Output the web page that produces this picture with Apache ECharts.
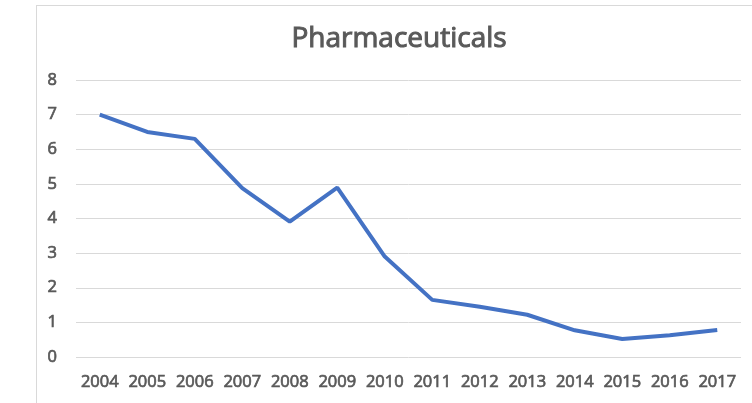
<!DOCTYPE html>
<html><head><meta charset="utf-8">
<script src="https://cdn.jsdelivr.net/npm/echarts@6/dist/echarts.min.js"></script>
<style>html,body{margin:0;padding:0;background:#fff;}#c{width:752px;height:403px;position:relative;}
#b{position:absolute;left:36px;top:5px;width:800px;height:500px;border:1px solid #d9d9d9;box-sizing:border-box;}</style>
</head><body><div id="b"></div><div id="c"></div>
<script>
const categories = ['2004','2005','2006','2007','2008','2009','2010','2011','2012','2013','2014','2015','2016','2017'];
const values = [7.0, 6.5, 6.3, 4.88, 3.91, 4.89, 2.9, 1.65, 1.45, 1.22, 0.77, 0.52, 0.63, 0.78];
const yTicks = {min: 0, max: 8, interval: 1};
const labelStyle = {fontFamily: 'Open Sans', fontSize: 16.5, fontWeight: 'normal', color: '#595959',
  textBorderColor: '#595959', textBorderWidth: 0.7};
const chart = echarts.init(document.getElementById('c'));
chart.setOption({
  backgroundColor: 'transparent',
  animation: false,
  title: {text: 'Pharmaceuticals', left: 394, top: 20, textAlign: 'center',
    textStyle: {fontFamily: 'Open Sans', fontSize: 28, fontWeight: 'normal', color: '#595959',
      textBorderColor: '#595959', textBorderWidth: 1}},
  grid: {left: 76, right: 11, top: 80, bottom: 46},
  xAxis: {type: 'category', data: categories, boundaryGap: true,
    axisLine: {show: false}, axisTick: {show: false},
    axisLabel: Object.assign({margin: 17, interval: 0}, labelStyle)},
  yAxis: {type: 'value', min: yTicks.min, max: yTicks.max, interval: yTicks.interval,
    axisLine: {show: false}, axisTick: {show: false},
    splitLine: {lineStyle: {color: '#d9d9d9', width: 1}},
    axisLabel: Object.assign({margin: 19}, labelStyle)},
  series: [{type: 'line', data: values, symbol: 'none', lineStyle: {color: '#4472C4', width: 4}}]
});
</script></body></html>
